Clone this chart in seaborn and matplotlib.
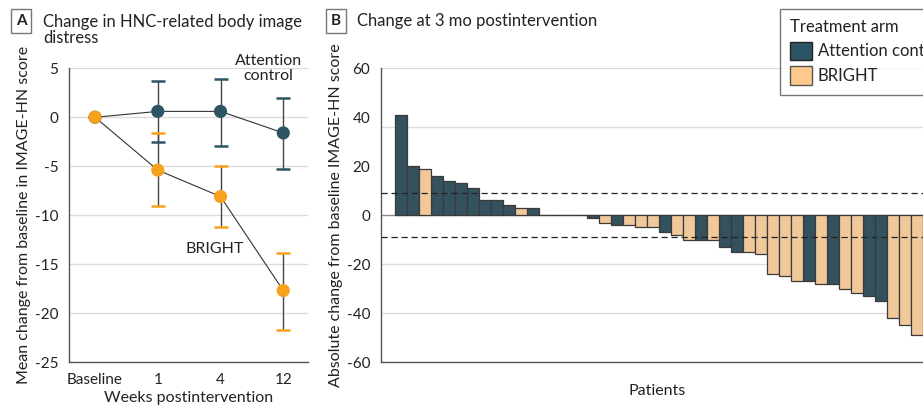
import numpy as np
import pandas as pd
import matplotlib
matplotlib.use('Agg')
import matplotlib.pyplot as plt
import seaborn as sns
from matplotlib.patches import Patch

# Panel A: mean change with 95% CI
weeks = ["Baseline", "1", "4", "12"]
control_mean = [0.0, 0.6, 0.6, -1.6]
control_lo = [0.0, -2.5, -2.9, -5.3]
control_hi = [0.0, 3.7, 3.9, 2.0]
bright_mean = [0.0, -5.4, -8.1, -17.7]
bright_lo = [0.0, -9.1, -11.2, -21.7]
bright_hi = [0.0, -1.6, -5.0, -13.9]

# Panel B: per-patient change at 3 months (waterfall)
change_3mo = [41, 20, 19, 16, 14, 13, 11, 6, 6, 4, 3, 3,
              0, 0, 0, 0,
              -1, -3, -4, -4, -5, -5, -7, -8, -10, -10, -10, -13, -15, -15,
              -16, -24, -25, -27, -27, -28, -28, -30, -32, -33, -35, -42, -45, -49]
arm_3mo = ["C", "C", "B", "C", "C", "C", "C", "C", "C", "C", "B", "C",
           "C", "C", "B", "B",
           "C", "B", "C", "B", "B", "B", "C", "B", "B", "C", "B", "C", "C", "B",
           "B", "B", "B", "B", "C", "B", "C", "B", "B", "C", "C", "B", "B", "B"]
arm_names = {"C": "Attention control", "B": "BRIGHT"}
mcid = 9

DARK = "#2d5465"
ORANGE = "#f7a11c"
LIGHT_ORANGE = "#fec98b"
GRID = "#dcdcdc"
SPINE = "#555555"
TXT = "#222222"

sns.set_style("white")
plt.rcParams['font.family'] = ['Lato', 'DejaVu Sans']
plt.rcParams['font.size'] = 11

fig = plt.figure(figsize=(9.23, 4.11), dpi=100)
axA = fig.add_axes([0.0751, 0.1192, 0.2583, 0.7146])
axB = fig.add_axes([0.4133, 0.1192, 0.5867, 0.7146])

# ---------- Panel A ----------
xpos = np.arange(len(weeks))
for y in [5, 0, -5, -10, -15, -20]:
    axA.axhline(y, color=GRID, lw=1, zorder=0)

for mean, lo, hi, col in [(control_mean, control_lo, control_hi, DARK),
                          (bright_mean, bright_lo, bright_hi, ORANGE)]:
    m = np.array(mean)
    err = np.vstack([m - np.array(lo), np.array(hi) - m])
    eb = axA.errorbar(xpos[1:], m[1:], yerr=err[:, 1:], fmt='none',
                      ecolor="#444444", elinewidth=1, capsize=5, capthick=1.8, zorder=2)
    for cl in eb[1]:
        cl.set_markeredgecolor(col)
        cl.set_markerfacecolor(col)
        cl.set_zorder(2.5)

df_a = pd.DataFrame({
    "x": np.concatenate([xpos, xpos]),
    "y": control_mean + bright_mean,
    "arm": ["Attention control"] * 4 + ["BRIGHT"] * 4,
})
sns.lineplot(data=df_a, x="x", y="y", units="arm", estimator=None, color="#333333",
             lw=0.8, ax=axA, zorder=3)
sns.scatterplot(data=df_a, x="x", y="y", hue="arm",
                palette={"Attention control": DARK, "BRIGHT": ORANGE},
                s=90, edgecolor="none", legend=False, ax=axA, zorder=4)

axA.set_xlim(-0.41, 3.39)
axA.set_ylim(-25, 5)
axA.set_yticks([5, 0, -5, -10, -15, -20, -25])
axA.set_yticklabels(["5", "0", "-5", "-10", "-15", "-20", "-25"])
axA.set_xticks(xpos)
axA.set_xticklabels(weeks)
axA.set_xlabel("Weeks postintervention", fontsize=11.5, labelpad=3, color=TXT)
axA.set_ylabel("Mean change from baseline in IMAGE-HN score", fontsize=11.5, labelpad=3,
               color=TXT)
axA.text(2.76, 5.0, "Attention\ncontrol", ha="center", va="center", fontsize=11.5,
         color=TXT, linespacing=1.1, clip_on=False)
axA.text(1.9, -13.5, "BRIGHT", ha="center", va="center", fontsize=11.5, color=TXT)

# ---------- Panel B ----------
df_b = pd.DataFrame({
    "patient": [str(i) for i in range(len(change_3mo))],
    "change": change_3mo,
    "arm": [arm_names[a] for a in arm_3mo],
})
for y in [60, 36, -20, -40]:
    axB.axhline(y, color=GRID, lw=1, zorder=0)
axB.axhline(0, color="#8a8a8a", lw=1, zorder=1)
sns.barplot(data=df_b, x="patient", y="change", hue="arm",
            order=df_b["patient"], hue_order=["Attention control", "BRIGHT"],
            palette={"Attention control": DARK, "BRIGHT": LIGHT_ORANGE},
            dodge=False, width=1.0, edgecolor="#3a3a3a", linewidth=0.9,
            legend=False, ax=axB, zorder=2)
axB.axhline(mcid, color=TXT, lw=0.9, ls=(0, (5, 3)), zorder=3)
axB.axhline(-mcid, color=TXT, lw=0.9, ls=(0, (5, 3)), zorder=3)

axB.set_xlim(-1.6, len(change_3mo) - 0.5)
axB.set_ylim(-60, 60)
axB.set_yticks([60, 40, 20, 0, -20, -40, -60])
axB.set_yticklabels(["60", "40", "20", "0", "-20", "-40", "-60"])
axB.set_xticks([])
axB.set_xlabel("")
axB.set_ylabel("Absolute change from baseline IMAGE-HN score", fontsize=11.5, labelpad=3,
               color=TXT)
axB.text(0.509, -0.1, "Patients", transform=axB.transAxes, ha="center", va="center",
         fontsize=11.5, color=TXT)

for ax in (axA, axB):
    for s in ("top", "right"):
        ax.spines[s].set_visible(False)
    for s in ("left", "bottom"):
        ax.spines[s].set_color(SPINE)
        ax.spines[s].set_linewidth(1)
    ax.tick_params(axis="both", which="both", direction="out", length=6, width=1,
                   color=SPINE, labelsize=11, labelcolor=TXT, pad=2)
axB.tick_params(axis="x", length=0)

handles = [Patch(facecolor=DARK, edgecolor=TXT, label="Attention control"),
           Patch(facecolor=LIGHT_ORANGE, edgecolor="#555555", label="BRIGHT")]
leg = fig.legend(handles=handles, title="Treatment arm", loc="upper left",
                 bbox_to_anchor=(780 / 923, 1 - 9 / 411), fontsize=12, title_fontsize=12,
                 frameon=True, fancybox=False, edgecolor=SPINE, borderpad=0.6,
                 handlelength=1.3, handleheight=1.3, handletextpad=0.35, labelspacing=0.4,
                 borderaxespad=0)
leg._legend_box.align = "left"
leg.get_frame().set_linewidth(1)
for t in leg.get_texts():
    t.set_color(TXT)
leg.get_title().set_color(TXT)

# Panel titles with boxed letters
box = dict(boxstyle="square,pad=0.3", facecolor="white", edgecolor="#777777", lw=1)
fig.text(21 / 923, 1 - 21 / 411, "A", ha="center", va="center", fontsize=11,
         fontweight="bold", color=TXT, bbox=box)
fig.text(43 / 923, 1 - 30 / 411, "Change in HNC-related body image\ndistress", ha="left",
         va="center", fontsize=12, color=TXT, linespacing=1.05)
fig.text(336 / 923, 1 - 21 / 411, "B", ha="center", va="center", fontsize=11,
         fontweight="bold", color=TXT, bbox=box)
fig.text(357 / 923, 1 - 21 / 411, "Change at 3 mo postintervention", ha="left",
         va="center", fontsize=12, color=TXT)

fig.savefig("out.png", dpi=100)
plt.close(fig)
